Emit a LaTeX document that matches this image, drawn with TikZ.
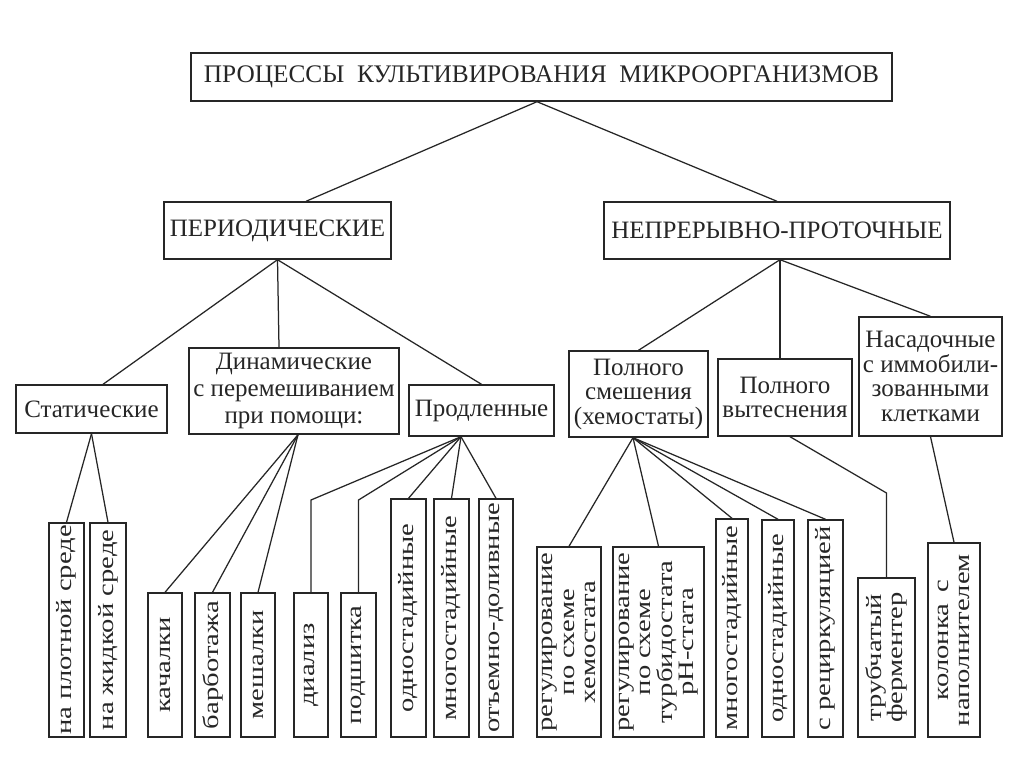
\documentclass[tikz,border=0pt]{standalone}
\usepackage{fontspec}
\setmainfont{Liberation Serif}
\newfontfamily\hfont{Liberation Serif}
\newfontfamily\vfont[FakeStretch=1.3]{Liberation Serif}
\definecolor{ink}{HTML}{262626}
\begin{document}
\begin{tikzpicture}[x=1pt,y=-1pt,
  hbox/.style={draw=ink, line width=1.4pt, inner sep=0pt, align=center, text=ink,
    font=\hfont\fontsize{25}{24.5}\selectfont},
  vbox/.style={draw=ink, line width=1.4pt, inner sep=0pt, align=center, text=ink, rotate=90,
    font=\vfont\fontsize{22}{21.5}\selectfont},
  conn/.style={draw=ink, line width=1.25pt}]
\useasboundingbox[fill=white] (0,0) rectangle (1024,768);

% top levels
\node[hbox, minimum width=701pt, minimum height=48pt, font=\hfont\fontsize{25.3}{28}\selectfont] (title) at (541.5,77)
  {ПРОЦЕССЫ\enspace КУЛЬТИВИРОВАНИЯ\enspace МИКРООРГАНИЗМОВ};
\node[hbox, minimum width=227pt, minimum height=57pt] (per) at (277.5,230.5) {ПЕРИОДИЧЕСКИЕ};
\node[hbox, minimum width=346pt, minimum height=57pt] (nepr) at (777,230.5) {НЕПРЕРЫВНО-ПРОТОЧНЫЕ};

% second level
\node[hbox, minimum width=151pt, minimum height=48pt] (stat) at (91.5,409) {Статические};
\node[hbox, minimum width=210pt, minimum height=86pt, font=\hfont\fontsize{25}{27}\selectfont] (dyn) at (294,391)
  {Динамические\\с перемешиванием\\при помощи:};
\node[hbox, minimum width=145pt, minimum height=51pt] (prod) at (481.5,410.5) {Продленные};
\node[hbox, minimum width=139pt, minimum height=86pt] (ps) at (638.5,394) {Полного\\смешения\\(хемостаты)};
\node[hbox, minimum width=134pt, minimum height=77pt] (pv) at (785,397.5) {Полного\\вытеснения};
\node[hbox, minimum width=143pt, minimum height=119pt] (nas) at (930.5,376.5)
  {Насадочные\\с иммобили-\\зованными\\клетками};

% bottom level (rotated)
\node[vbox, minimum width=214pt, minimum height=35pt] (plot) at (66.5,630) {на плотной среде};
\node[vbox, minimum width=214pt, minimum height=36pt] (zhid) at (108,630) {на жидкой среде};
\node[vbox, minimum width=144pt, minimum height=34pt] (kach) at (165,665) {качалки};
\node[vbox, minimum width=144pt, minimum height=35pt] (barb) at (212.5,665) {барботажа};
\node[vbox, minimum width=144pt, minimum height=34pt] (mesh) at (258,665) {мешалки};
\node[vbox, minimum width=144pt, minimum height=34pt] (dial) at (311,665) {диализ};
\node[vbox, minimum width=144pt, minimum height=35pt] (podsh) at (358.5,665) {подшитка};
\node[vbox, minimum width=238pt, minimum height=35pt] (odno) at (408.5,618) {одностадийные};
\node[vbox, minimum width=238pt, minimum height=35pt] (mnogo) at (451.5,618) {многостадийные};
\node[vbox, minimum width=238pt, minimum height=34pt] (otem) at (496,618) {отъемно-доливные};
\node[vbox, minimum width=190pt, minimum height=64pt] (hemo) at (569,642)
  {регулирование\\по схеме\\хемостата};
\node[vbox, minimum width=190pt, minimum height=91pt] (turb) at (658.5,642)
  {регулирование\\по схеме\\турбидостата\\pH-стата};
\node[vbox, minimum width=218pt, minimum height=32pt] (mnogob) at (732,628) {многостадийные};
\node[vbox, minimum width=217pt, minimum height=32pt] (odnob) at (778,628.5) {одностадийные};
\node[vbox, minimum width=217pt, minimum height=35pt] (recirc) at (825.5,628.5) {с рециркуляцией};
\node[vbox, minimum width=159pt, minimum height=57pt] (trub) at (886.5,657.5) {трубчатый\\ферментер};
\node[vbox, minimum width=194pt, minimum height=52pt] (kolon) at (954,640) {колонка\enspace с\\наполнителем};

% bend levels
\coordinate (lvlA) at (0,500);
\coordinate (lvlB) at (0,493);

% connectors
\draw[conn] ([xshift=-4.5pt]title.south) -- ([xshift=28.5pt]per.north);
\draw[conn] ([xshift=-4.5pt]title.south) -- (nepr.north);

\draw[conn] (per.south) -- ([xshift=11.5pt]stat.north);
\draw[conn] (per.south) -- ([xshift=-15pt]dyn.north);
\draw[conn] (per.south) -- (prod.north);

\draw[conn] ([xshift=3pt]nepr.south) -- (ps.north);
\draw[conn] ([xshift=3pt]nepr.south) -- ([xshift=-5pt]pv.north);
\draw[conn] ([xshift=3pt]nepr.south) -- (nas.north);

\draw[conn] (stat.south) -- (plot.east);
\draw[conn] (stat.south) -- (zhid.east);

\draw[conn] ([xshift=4pt]dyn.south) -- (kach.east);
\draw[conn] ([xshift=4pt]dyn.south) -- (barb.east);
\draw[conn] ([xshift=4pt]dyn.south) -- (mesh.east);

\draw[conn] ([xshift=-20.5pt]prod.south) -- (dial.east |- lvlA) -- (dial.east);
\draw[conn] ([xshift=-20.5pt]prod.south) -- (podsh.east |- lvlA) -- (podsh.east);
\draw[conn] ([xshift=-20.5pt]prod.south) -- (odno.east);
\draw[conn] ([xshift=-20.5pt]prod.south) -- (mnogo.east);
\draw[conn] ([xshift=-20.5pt]prod.south) -- (otem.east);

\draw[conn] ([xshift=-5.5pt]ps.south) -- (hemo.east);
\draw[conn] ([xshift=-5.5pt]ps.south) -- (turb.east);
\draw[conn] ([xshift=-5.5pt]ps.south) -- (mnogob.east);
\draw[conn] ([xshift=-5.5pt]ps.south) -- (odnob.east);
\draw[conn] ([xshift=-5.5pt]ps.south) -- (recirc.east);

\draw[conn] ([xshift=5pt]pv.south) -- (trub.east |- lvlB) -- (trub.east);
\draw[conn] (nas.south) -- (kolon.east);
\end{tikzpicture}
\end{document}
